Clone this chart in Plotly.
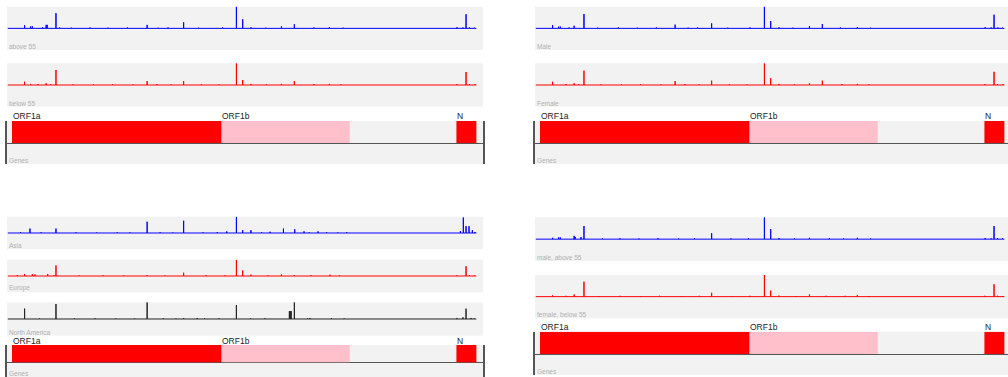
import plotly.graph_objects as go

# ---------------------------------------------------------------- genes
gene_names = ["ORF1a", "ORF1b", "N"]
gene_start = [266, 13468, 28274]
gene_end = [13483, 21555, 29533]
gene_colors = ["#ff0000", "#ffc0cb", "#ff0000"]

# ------------------------------------------------ mutation frequency tracks
above55_pos = [520, 1059, 1440, 1548, 2200, 2416, 2480, 3037, 3267, 4002, 5184, 6312, 7540, 8782, 9477,
               10097, 11083, 12025, 13536, 14408, 14805, 15324, 16260, 17247, 18060, 19290, 20268, 21137,
               28311, 28688, 28881, 29095, 29402]
above55_val = [0.03, 0.14, 0.09, 0.09, 0.05, 0.16, 0.16, 0.70, 0.04, 0.03, 0.04, 0.03, 0.04, 0.16, 0.03,
               0.04, 0.28, 0.03, 0.04, 1.00, 0.42, 0.05, 0.03, 0.09, 0.19, 0.04, 0.05, 0.03,
               0.05, 0.04, 0.65, 0.04, 0.03]

below55_pos = [520, 1059, 1440, 1900, 2416, 2700, 3037, 4100, 5400, 6600, 7900, 8782, 9400, 10300, 11083,
               12200, 13300, 14408, 14805, 15324, 16300, 17247, 18060, 19300, 20268, 21000,
               28300, 28881, 29100, 29450]
below55_val = [0.03, 0.15, 0.05, 0.04, 0.08, 0.04, 0.69, 0.03, 0.03, 0.04, 0.03, 0.18, 0.04, 0.03, 0.18,
               0.03, 0.03, 1.00, 0.23, 0.05, 0.03, 0.05, 0.18, 0.04, 0.05, 0.03,
               0.04, 0.60, 0.04, 0.03]

male_pos = [600, 1059, 1440, 1548, 2100, 2416, 3037, 3900, 5200, 6400, 7600, 8782, 9600, 10200, 11083,
            12100, 13500, 14408, 14805, 15324, 16200, 17247, 18060, 19200, 20268, 21100,
            28320, 28700, 28881, 29120, 29420]
male_val = [0.03, 0.15, 0.08, 0.08, 0.04, 0.12, 0.66, 0.03, 0.04, 0.03, 0.04, 0.17, 0.03, 0.04, 0.23,
            0.03, 0.04, 1.00, 0.34, 0.05, 0.03, 0.10, 0.20, 0.04, 0.06, 0.03,
            0.05, 0.04, 0.63, 0.04, 0.03]

female_pos = [520, 1059, 1900, 2416, 2700, 3037, 4100, 5400, 6600, 7900, 8782, 9400, 10300, 11083, 12200,
              13300, 14408, 14805, 15324, 16300, 17247, 18060, 19300, 20268, 21000,
              28300, 28881, 29100, 29450]
female_val = [0.03, 0.15, 0.04, 0.08, 0.04, 0.66, 0.03, 0.03, 0.04, 0.03, 0.18, 0.04, 0.03, 0.20, 0.03,
              0.03, 1.00, 0.31, 0.05, 0.03, 0.08, 0.20, 0.04, 0.05, 0.03,
              0.04, 0.61, 0.04, 0.03]

asia_pos = [500, 800, 1397, 2100, 3037, 4300, 5600, 6900, 7700, 8782, 9600, 10400, 11083, 12300, 13200,
            13800, 14408, 14805, 15324, 16000, 16527, 17373, 18084, 18670, 19000, 19552, 20100, 20800, 21361,
            28523, 28711, 28881, 29070, 29278, 29448]
asia_val = [0.04, 0.05, 0.27, 0.04, 0.27, 0.04, 0.03, 0.04, 0.03, 0.69, 0.04, 0.03, 0.75, 0.04, 0.05,
            0.10, 1.00, 0.17, 0.17, 0.04, 0.08, 0.27, 0.23, 0.10, 0.04, 0.10, 0.04, 0.03, 0.05,
            0.12, 0.95, 0.42, 0.42, 0.17, 0.06]

europe_pos = [600, 1059, 1547, 1715, 2515, 2900, 3037, 4500, 6000, 7300, 8782, 9900, 11083, 12500, 13700,
              14408, 14805, 15324, 16400, 17247, 18060, 19100, 20309, 20900,
              28300, 28881, 29100, 29400]
europe_val = [0.05, 0.12, 0.12, 0.10, 0.12, 0.04, 0.65, 0.03, 0.04, 0.03, 0.05, 0.03, 0.20, 0.04, 0.04,
              1.00, 0.34, 0.08, 0.03, 0.10, 0.05, 0.05, 0.08, 0.03,
              0.04, 0.60, 0.04, 0.03]

namerica_pos = [700, 1059, 2000, 3037, 4200, 5500, 6800, 8000, 8782, 9800, 10600, 11083, 11944, 12400, 13300,
                14408, 15300, 16200, 17747, 17800, 17858, 18060, 18900, 19050, 20400, 21200,
                28311, 28688, 28881, 29200, 29400]
namerica_val = [0.04, 0.62, 0.03, 0.90, 0.03, 0.04, 0.03, 0.03, 1.00, 0.04, 0.03, 0.06, 0.06, 0.03, 0.04,
                0.83, 0.03, 0.04, 0.47, 0.47, 0.47, 1.00, 0.03, 0.06, 0.04, 0.03,
                0.06, 0.10, 0.62, 0.06, 0.03]

male_above55_pos = [520, 1059, 1440, 1548, 2416, 2480, 2850, 3037, 4200, 5300, 6500, 7700, 9000, 10000, 11083,
                    12300, 13400, 14408, 14805, 15324, 16300, 17247, 18500, 19400, 20268, 21100,
                    28320, 28700, 28881, 29100, 29420]
male_above55_val = [0.03, 0.06, 0.08, 0.08, 0.15, 0.10, 0.10, 0.60, 0.03, 0.04, 0.03, 0.04, 0.03, 0.04, 0.27,
                    0.03, 0.04, 1.00, 0.46, 0.05, 0.03, 0.06, 0.04, 0.03, 0.06, 0.03,
                    0.05, 0.04, 0.60, 0.04, 0.03]

female_below55_pos = [600, 1059, 1900, 2416, 3037, 4000, 5300, 6600, 7800, 9200, 10300, 11083, 12400, 13500,
                      14408, 14805, 15324, 16400, 17247, 18300, 19500, 20268, 21000,
                      28300, 28881, 29100, 29420]
female_below55_val = [0.03, 0.06, 0.04, 0.10, 0.69, 0.03, 0.04, 0.03, 0.04, 0.03, 0.04, 0.18, 0.03, 0.04,
                      1.00, 0.28, 0.05, 0.03, 0.10, 0.04, 0.04, 0.08, 0.03,
                      0.04, 0.57, 0.04, 0.03]

BLUE, RED, DARK = "#0000ff", "#ff0000", "#222222"

# ---------------------------------------------------------------- geometry
W, H = 1008, 377
BP_PER_PX = 30000 / 476
X_MIN = -50
LINE_START, LINE_END = 1, 29533


def xdom(px0, px1):
    return [px0 / W, min(px1 / W, 1.0)]


def ydom(top, bottom):
    return [max(1 - bottom / H, 0.0), 1 - top / H]


# right-hand panels run past the page edge, so their closing line is not drawn
panels = [
    dict(x=(7, 483), closed=True,
         tracks=[("above 55", above55_pos, above55_val, BLUE, 6.7, 50.0),
                 ("below 55", below55_pos, below55_val, RED, 63.3, 106.7)],
         genes=(121.0, 143.0, 164.0)),
    dict(x=(535, 1008), closed=False,
         tracks=[("Male", male_pos, male_val, BLUE, 6.7, 50.0),
                 ("Female", female_pos, female_val, RED, 63.3, 106.7)],
         genes=(121.0, 143.0, 164.0)),
    dict(x=(7, 483), closed=True,
         tracks=[("Asia", asia_pos, asia_val, BLUE, 216.7, 249.3),
                 ("Europe", europe_pos, europe_val, RED, 259.7, 292.3),
                 ("North America", namerica_pos, namerica_val, DARK, 302.3, 335.7)],
         genes=(345.0, 362.3, 377.0)),
    dict(x=(535, 1008), closed=False,
         tracks=[("male, above 55", male_above55_pos, male_above55_val, BLUE, 217.3, 261.0),
                 ("female, below 55", female_below55_pos, female_below55_val, RED, 275.0, 318.3)],
         genes=(331.7, 354.0, 375.0)),
]

fig = go.Figure()
layout_axes = {}
annotations = []
axis_count = [0]

hidden = dict(showgrid=False, zeroline=False, showline=False, showticklabels=False,
              ticks="", fixedrange=True)


def new_axes(xpx, top, bottom, yrange):
    axis_count[0] += 1
    k = axis_count[0]
    sx = "" if k == 1 else str(k)
    x_hi = X_MIN + (xpx[1] - xpx[0]) * BP_PER_PX
    layout_axes["xaxis" + sx] = dict(domain=xdom(*xpx), range=[X_MIN, x_hi], anchor="y" + sx, **hidden)
    layout_axes["yaxis" + sx] = dict(domain=ydom(top, bottom), range=yrange, anchor="x" + sx, **hidden)
    return sx


def spike_line(pos, val):
    xs, ys = [LINE_START], [0.0]
    for p, v in sorted(zip(pos, val)):
        xs += [p, p, p]
        ys += [0.0, v, 0.0]
    xs.append(LINE_END)
    ys.append(0.0)
    return xs, ys


def track_label(sx, text):
    annotations.append(dict(text=text, xref=f"x{sx} domain", yref=f"y{sx} domain", x=0, y=0,
                            xanchor="left", yanchor="bottom", yshift=-2, showarrow=False,
                            font=dict(size=6.5, color="#b0b0b0")))


for panel in panels:
    for name, pos, val, color, top, bottom in panel["tracks"]:
        assert len(pos) == len(val)
        m = max(val)
        sx = new_axes(panel["x"], top, bottom, [-m, m])
        xs, ys = spike_line(pos, val)
        fig.add_trace(go.Scatter(x=xs, y=ys, xaxis="x" + sx, yaxis="y" + sx, mode="lines",
                                 line=dict(color=color, width=1), hoverinfo="skip"))
        track_label(sx, name)

    # gene track: bars on the upper half, axis line through the middle
    top, base, bottom = panel["genes"]
    unit = base - top
    sx = new_axes(panel["x"], top, bottom, [-(bottom - base) / unit, 1])
    layout_axes["yaxis" + sx].update(showline=True, mirror=panel["closed"], linecolor="#555555",
                                     linewidth=1.5, zeroline=True, zerolinecolor="#555555",
                                     zerolinewidth=1)
    mids = [(s + e) / 2 for s, e in zip(gene_start, gene_end)]
    lens = [e - s for s, e in zip(gene_start, gene_end)]
    fig.add_trace(go.Bar(x=mids, y=[1] * len(mids), width=lens, base=0, xaxis="x" + sx, yaxis="y" + sx,
                         marker=dict(color=gene_colors, line=dict(width=0)), hoverinfo="skip"))
    for g, s in zip(gene_names, gene_start):
        annotations.append(dict(text=g, x=s, y=1, xref="x" + sx, yref="y" + sx, xanchor="left",
                                yanchor="bottom", xshift=-1, yshift=-2.5, showarrow=False,
                                font=dict(size=8.5, color="#222222")))
    track_label(sx, "Genes")

fig.update_layout(
    width=W, height=H,
    margin=dict(l=0, r=0, t=0, b=0),
    paper_bgcolor="white",
    plot_bgcolor="#f2f2f2",
    showlegend=False,
    font=dict(family="Arial, Liberation Sans, sans-serif"),
    annotations=annotations,
    **layout_axes,
)

fig.write_html("out.html")
